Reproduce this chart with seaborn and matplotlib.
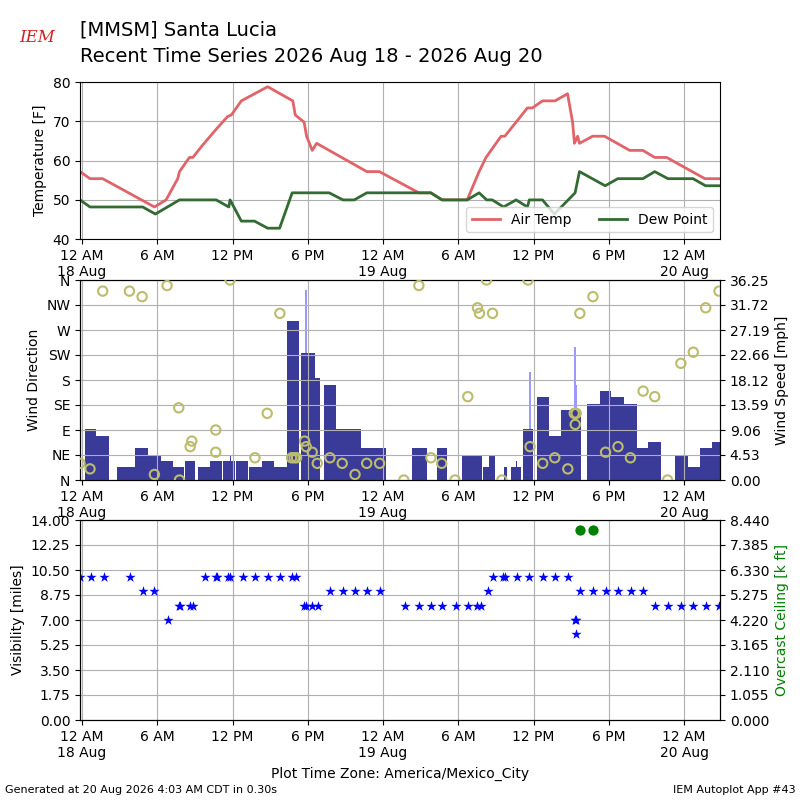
import numpy as np
import pandas as pd
import matplotlib
matplotlib.use("Agg")
import matplotlib.pyplot as plt
import matplotlib.dates as mdates
from matplotlib.ticker import FuncFormatter, FormatStrFormatter
import seaborn as sns

# ---------------- data (hours after 2026-08-18 00:00 local) ----------------
base_time = "2026-08-18 00:00"
x_start_h = -0.16
x_end_h = 50.85

temp_hours = [-0.16, 0.64, 1.65, 5.77, 6.7, 7.63, 7.77, 8.56, 8.83, 9.63, 10.7, 11.6, 11.9,
              12.7, 14.8, 16.8, 17.0, 17.7, 17.9, 18.35, 18.7, 22.7, 23.7, 26.85, 27.8, 28.7,
              30.7, 31.65, 32.2, 33.4, 33.7, 34.6, 35.5, 35.9, 36.7, 37.7, 38.7, 39.1, 39.25,
              39.5, 39.65, 40.7, 41.65, 43.65, 44.7, 45.65, 46.6, 49.65, 50.85]
temp_f = [57.2, 55.4, 55.4, 48.2, 50.0, 55.4, 57.2, 60.8, 60.8, 64.0, 68.0, 71.2, 71.6,
          75.2, 78.8, 75.2, 71.6, 69.8, 66.2, 62.6, 64.4, 57.2, 57.2, 51.8, 51.8, 50.0,
          50.0, 57.2, 60.8, 66.2, 66.2, 69.8, 73.4, 73.4, 75.2, 75.2, 77.0, 69.8, 64.4,
          66.2, 64.4, 66.2, 66.2, 62.6, 62.6, 60.8, 60.8, 55.4, 55.4]

dew_hours = [-0.16, 0.64, 4.84, 5.85, 7.77, 10.7, 11.7, 11.8, 12.7, 13.75, 14.8, 15.75,
             16.75, 19.7, 20.8, 21.7, 22.7, 27.8, 28.7, 30.7, 31.65, 32.25, 32.7, 33.6,
             34.6, 35.5, 35.65, 36.7, 37.65, 39.3, 39.65, 41.7, 42.7, 44.7, 45.65, 46.7,
             48.7, 49.7, 50.85]
dew_f = [50.0, 48.2, 48.2, 46.4, 50.0, 50.0, 48.2, 50.0, 44.6, 44.6, 42.8, 42.8, 51.8,
         51.8, 50.0, 50.0, 51.8, 51.8, 50.0, 50.0, 51.8, 50.0, 50.0, 48.2, 50.0, 48.2,
         50.0, 50.0, 46.4, 51.8, 57.2, 53.6, 55.4, 55.4, 57.2, 55.4, 55.4, 53.6, 53.6]

wind_hours = [0.27, 1.12, 2.18, 2.77, 3.5, 4.26, 5.27, 6.33, 7.29, 8.16, 8.24, 9.04, 9.28,
              10.24, 11.12, 11.2, 11.76, 11.91, 12.23, 12.29, 13.22, 13.27, 14.31, 15.27,
              16.33, 17.26, 17.42, 18.59, 18.99, 19.26, 20.27, 21.27, 22.26, 23.19, 24.26,
              26.32, 27.47, 28.27, 29.07, 30.32, 31.0, 31.87, 31.97, 32.45, 32.93, 33.65,
              33.87, 34.21, 34.59, 34.69, 35.01, 35.12, 35.97, 36.24, 37.25, 38.21, 39.0,
              39.81, 40.21, 41.25, 42.19, 43.2, 44.21, 45.15, 46.13, 47.25, 48.27, 49.25,
              50.24]
wind_kt = [8, 7, 0, 2, 2, 5, 4, 3, 2, 0, 3, 0, 2, 3, 0, 3, 4, 3, 0, 3, 0, 2, 3, 2, 25, 0,
           20, 16, 0, 15, 8, 8, 5, 5, 0, 5, 0, 5, 0, 4, 4, 0, 2, 4, 0, 2, 0, 2, 3, 2, 0, 8,
           0, 13, 7, 11, 11, 0, 12, 14, 13, 12, 5, 6, 0, 4, 2, 5, 6]

gust_hours = [17.87, 35.73, 39.30, 39.36]
gust_kt = [30, 17, 21, 15]

dir_hours = [-0.16, 0.64, 1.65, 3.78, 4.79, 5.77, 6.78, 7.71, 7.77, 8.62, 8.75, 10.66,
             10.66, 11.8, 13.78, 14.76, 15.77, 16.7, 16.9, 17.1, 17.74, 17.87, 18.35, 18.75,
             19.76, 20.74, 21.76, 22.69, 23.72, 25.65, 26.85, 27.81, 28.67, 29.73, 30.75,
             31.52, 31.68, 32.24, 32.72, 33.47, 35.55, 35.71, 36.72, 37.68, 38.72, 39.23,
             39.31, 39.39, 39.68, 40.72, 41.73, 42.72, 43.71, 44.72, 45.65, 46.67, 47.73,
             48.72, 49.71, 50.77]
dir_deg = [30, 20, 340, 340, 330, 10, 350, 130, 0, 60, 70, 90, 50, 360, 40, 120, 300, 40,
           40, 40, 70, 60, 50, 30, 40, 30, 10, 30, 30, 0, 350, 40, 30, 0, 150, 310, 300,
           360, 300, 0, 360, 60, 30, 40, 20, 120, 100, 120, 300, 330, 50, 60, 40, 160,
           150, 0, 210, 230, 310, 340]

vis_hours = [-0.16, 0.72, 1.73, 3.8, 4.84, 5.72, 6.84, 7.74, 7.8, 8.62, 8.83, 9.79, 10.7,
             10.75, 11.65, 11.76, 12.82, 13.78, 14.79, 15.77, 16.73, 17.02, 17.69, 17.82,
             18.35, 18.8, 19.76, 20.77, 21.76, 22.71, 23.72, 25.73, 26.85, 27.84, 28.72,
             29.84, 30.77, 31.52, 31.79, 32.32, 32.75, 33.57, 33.73, 34.64, 35.65, 36.72,
             37.73, 38.72, 39.3, 39.39, 39.39, 39.73, 40.72, 41.73, 42.72, 43.73, 44.72,
             45.68, 46.72, 47.71, 48.72, 49.73, 50.77]
vis_mi = [10, 10, 10, 10, 9, 9, 7, 8, 8, 8, 8, 10, 10, 10, 10, 10, 10, 10, 10, 10, 10, 10,
          8, 8, 8, 8, 9, 9, 9, 9, 9, 8, 8, 8, 8, 8, 8, 8, 8, 9, 10, 10, 10, 10, 10, 10, 10,
          10, 7, 7, 6, 9, 9, 9, 9, 9, 9, 8, 8, 8, 8, 8, 8]

ceil_hours = [39.73, 40.72]
ceil_kft = [8.0, 8.0]

temp_ticks = [40, 50, 60, 70, 80]
dir_labels = ["N", "NE", "E", "SE", "S", "SW", "W", "NW", "N"]
vis_top = 14.0
ceil_top = 8.44

# ---------------- helpers ----------------
t0 = pd.Timestamp(base_time)
def to_num(hours):
    return mdates.date2num(t0 + pd.to_timedelta(np.asarray(hours, dtype=float), unit="h"))

KT2MPH = 1.15078

def fmt_time(x, pos=None):
    d = mdates.num2date(x)
    h = d.hour
    if h == 0:
        return "12 AM\n%d %s" % (d.day, d.strftime("%b"))
    if h == 12:
        return "12 PM"
    return "%d %s" % (h % 12, "AM" if h < 12 else "PM")

xmin, xmax = to_num([x_start_h, x_end_h])

def style_time_axis(ax):
    ax.set_xlim(xmin, xmax)
    ax.xaxis.set_major_locator(mdates.HourLocator(byhour=[0, 6, 12, 18]))
    ax.xaxis.set_major_formatter(FuncFormatter(fmt_time))
    ax.grid(True, color="#b0b0b0", lw=0.8)
    ax.tick_params(labelsize=10)

# ---------------- figure ----------------
fig = plt.figure(figsize=(8, 8), dpi=100)

# Temperature panel
ax1 = fig.add_axes([0.1, 0.701, 0.8, 0.1965])
sns.lineplot(x=to_num(temp_hours), y=temp_f, ax=ax1, color="#e0646a", lw=2,
             label="Air Temp", sort=False, estimator=None)
sns.lineplot(x=to_num(dew_hours), y=dew_f, ax=ax1, color="#336b33", lw=2,
             label="Dew Point", sort=False, estimator=None)
ax1.set_ylim(temp_ticks[0], temp_ticks[-1])
ax1.set_yticks(temp_ticks)
ax1.set_ylabel("Temperature [F]", fontsize=10)
style_time_axis(ax1)
ax1.legend(loc="lower right", ncol=2, fontsize=10)

# Wind panel
ax2 = fig.add_axes([0.1, 0.40, 0.8, 0.25])
ax2b = ax2.twinx()
wt = to_num(wind_hours)
widths = np.diff(np.append(wt, xmax))
widths = np.minimum(widths, 1.2 / 24.0)
ax2b.bar(to_num(gust_hours), np.asarray(gust_kt) * KT2MPH, width=0.15 / 24.0,
         color="#9999ff", linewidth=0, align="center")
ax2b.bar(wt, np.asarray(wind_kt) * KT2MPH, width=widths, align="edge",
         color="#3a3a98", linewidth=0)
speed_top = max(gust_kt) * KT2MPH * 1.05
ax2b.set_ylim(0, speed_top)
ax2b.set_yticks(np.linspace(0, speed_top, 9))
ax2b.yaxis.set_major_formatter(FormatStrFormatter("%.2f"))
ax2b.set_ylabel("Wind Speed [mph]", fontsize=10)
ax2b.tick_params(labelsize=10)

sns.scatterplot(x=to_num(dir_hours), y=dir_deg, ax=ax2, marker="o", s=45,
                facecolor="none", edgecolor="#bcbc6c", linewidth=1.5, zorder=5)
ax2.set_zorder(ax2b.get_zorder() + 1)
ax2.patch.set_visible(False)
ax2.set_ylim(0, 360)
ax2.set_yticks(np.arange(0, 361, 45))
ax2.set_yticklabels(dir_labels)
ax2.set_ylabel("Wind Direction", fontsize=10)
style_time_axis(ax2)

# Visibility / ceiling panel
ax3 = fig.add_axes([0.1, 0.10, 0.8, 0.25])
sns.scatterplot(x=to_num(vis_hours), y=vis_mi, ax=ax3, marker="*", s=60,
                color="blue", linewidth=0, zorder=4)
ax3.set_ylim(0, vis_top)
ax3.set_yticks(np.linspace(0, vis_top, 9))
ax3.yaxis.set_major_formatter(FormatStrFormatter("%.2f"))
ax3.set_ylabel("Visibility [miles]", fontsize=10)
style_time_axis(ax3)

ax3b = ax3.twinx()
sns.scatterplot(x=to_num(ceil_hours), y=ceil_kft, ax=ax3b, marker="o", s=55,
                color="green", linewidth=0)
ax3b.set_ylim(0, ceil_top)
ax3b.set_yticks(np.linspace(0, ceil_top, 9))
ax3b.yaxis.set_major_formatter(FormatStrFormatter("%.3f"))
ax3b.set_ylabel("Overcast Ceiling [k ft]", color="green", fontsize=10)
ax3b.tick_params(labelsize=10)
ax3b.set_xlim(xmin, xmax)

# ---------------- text ----------------
fig.text(0.1, 0.9625, "[MMSM] Santa Lucia", fontsize=14, va="center", ha="left")
fig.text(0.1, 0.930, "Recent Time Series 2026 Aug 18 - 2026 Aug 20", fontsize=14,
         va="center", ha="left")
fig.text(0.047, 0.953, "IEM", color="#d42020", fontsize=12, family="serif",
         style="italic", ha="center", va="center")
fig.text(0.5, 0.0325, "Plot Time Zone: America/Mexico_City", ha="center", va="center",
         fontsize=10)
fig.text(0.006, 0.012, "Generated at 20 Aug 2026 4:03 AM CDT in 0.30s", fontsize=8,
         ha="left", va="center")
fig.text(0.994, 0.012, "IEM Autoplot App #43", fontsize=8, ha="right", va="center")

fig.savefig("out.png", dpi=100)
